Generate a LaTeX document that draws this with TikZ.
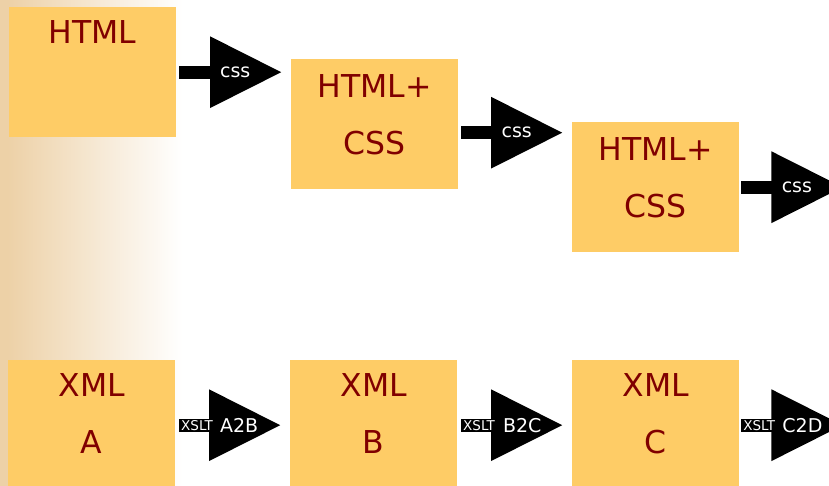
\documentclass[tikz,border=0pt]{standalone}
\usepackage{fontspec}
\setmainfont{DejaVu Sans}
\usepackage{tikz}
\usetikzlibrary{positioning,arrows.meta}
\pgfdeclarelayer{background}
\pgfsetlayers{background,main}
\definecolor{boxfill}{RGB}{254,204,102}
\definecolor{textred}{RGB}{128,0,0}
\definecolor{stripcol}{RGB}{237,209,167}
\tikzset{
    page/.style={x=1pt, y=-1pt},
    box/.style={
        rectangle,
        fill=boxfill,
        minimum width=167pt,
        minimum height=130pt,
        inner sep=0pt,
        anchor=north west
    },
    boxlabel/.style={
        text=textred,
        inner sep=0pt,
        align=center,
        font={\fontsize{31.5pt}{57pt}\selectfont}
    },
    flow/.style={
        draw=black, line width=13pt,
        -{Triangle[length=72pt,width=68pt]},
        shorten >=9pt
    },
    flowtext/.style={text=white, inner sep=0pt, font={\fontsize{19pt}{22pt}\selectfont}},
    xslttext/.style={text=white, fill=black, inner sep=0.5pt, font={\fontsize{13.5pt}{15pt}\selectfont}},
}

\begin{document}
\begin{tikzpicture}[page]
\useasboundingbox (0,0) rectangle (829,486);
\clip (0,0) rectangle (829,486);
% left band
\begin{pgfonlayer}{background}
\shade[left color=stripcol, right color=white] (8,0) rectangle (182,486);
\fill[stripcol] (0,0) rectangle (8,486);
\end{pgfonlayer}

% top row
\node[box] (html) at (9,7) {};
\node[box] (htmlcss) at (291,59) {};
\node[box] (htmlcssb) at (572,122) {};
\node[boxlabel, below=13.5pt of html.north] (htmltxt) {HTML};
\node[boxlabel, below=15.5pt of htmlcss.north] (htmlcsstxt) {HTML+\\CSS};
\node[boxlabel, below=15.5pt of htmlcssb.north] (htmlcssbtxt) {HTML+\\CSS};

% bottom row
\node[box] (xmla) at (8,360) {};
\node[box] (xmlb) at (290,360) {};
\node[box] (xmlc) at (572,360) {};
\node[boxlabel, below=13.5pt of xmla.north] (xmlatxt) {XML\\A};
\node[boxlabel, below=13.5pt of xmlb.north] (xmlbtxt) {XML\\B};
\node[boxlabel, below=13.5pt of xmlc.north] (xmlctxt) {XML\\C};

% arrows
\coordinate (cssend) at ([xshift=113pt]htmlcssb.east);
\coordinate (xsltend) at ([xshift=113pt]xmlc.east);
\draw[flow] ([xshift=3pt]html.east) -- node[flowtext]{css} (html.east -| htmlcss.west);
\draw[flow] ([xshift=3pt,yshift=-8.5pt]htmlcss.east) -- node[flowtext]{css} ([yshift=-8.5pt]htmlcss.east -| htmlcssb.west);
\draw[flow] ([xshift=2pt]htmlcssb.east) -- node[flowtext]{css} (cssend);
\draw[flow] ([xshift=4pt]xmla.east) -- node[xslttext, pos=0.16]{XSLT} node[flowtext, pos=0.54]{A2B} (xmla.east -| xmlb.west);
\draw[flow] ([xshift=4pt]xmlb.east) -- node[xslttext, pos=0.16]{XSLT} node[flowtext, pos=0.55]{B2C} (xmlb.east -| xmlc.west);
\draw[flow] ([xshift=2pt]xmlc.east) -- node[xslttext, pos=0.16]{XSLT} node[flowtext, pos=0.55]{C2D} (xsltend);
\end{tikzpicture}
\end{document}
